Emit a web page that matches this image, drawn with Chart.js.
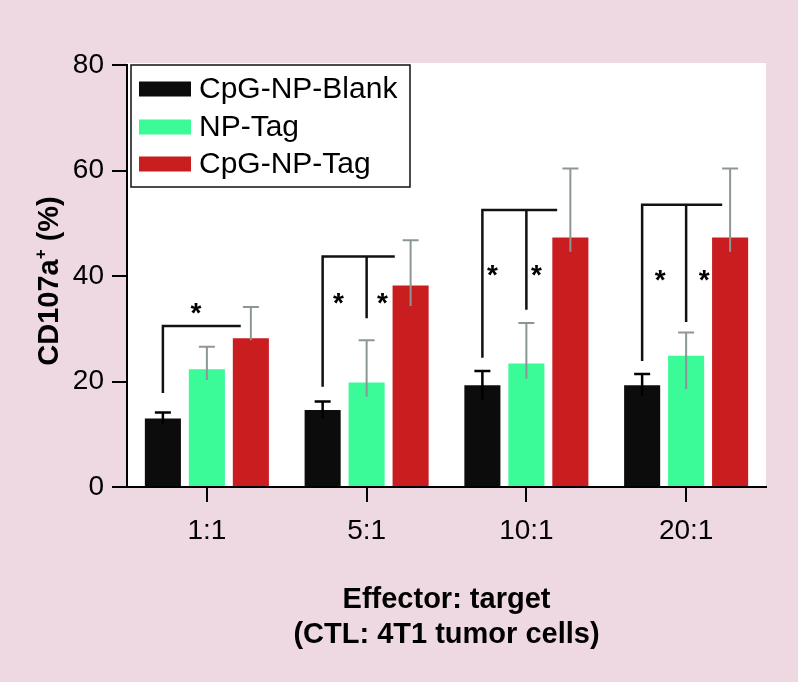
<!DOCTYPE html>
<html lang="en">
<head>
<meta charset="UTF-8">
<title>CD107a+ CTL at different effector:target ratios</title>
<script src="https://cdn.jsdelivr.net/npm/chart.js"></script>
<style>
  html, body { margin: 0; padding: 0; background: #EED8E2; }
  canvas { display: block; }
</style>
</head>
<body>
<canvas id="plot" width="798" height="682"></canvas>
<script>
// effector:target ratios
const categories = ['1:1', '5:1', '10:1', '20:1'];
const seriesNames = ['CpG-NP-Blank', 'NP-Tag', 'CpG-NP-Tag'];

// mean CD107a+ (%)
const blankValues = [13.0, 14.6, 19.3, 19.3];
const npTagValues = [22.3, 19.8, 23.4, 24.9];
const cpgTagValues = [28.2, 38.2, 47.3, 47.3];

// error bars: upper arm, and lower arm as far as it shows in the bar
const blankErr = [1.1, 1.6, 2.7, 2.1];
const npTagErr = [4.3, 8.0, 7.7, 4.4];
const cpgTagErr = [5.9, 8.6, 13.1, 13.1];
const blankErrLow = [1.1, 1.6, 2.7, 2.1];
const npTagErrLow = [2.0, 2.7, 2.9, 6.3];
const cpgTagErrLow = [0.4, 3.9, 2.7, 2.7];

const yTicks = [0, 20, 40, 60, 80];

// significance brackets, one per group (values in %, ends in bar slots 0..2)
const bracketLevel = [30.5, 43.7, 52.5, 53.5];
const bracketFootBlank = [17.8, 19.0, 24.5, 23.9];
const bracketFootNpTag = [null, 32.0, 33.6, 31.3];
const bracketEnd = [1.77, 1.64, 1.70, 1.82];
const starSlots = [[0.75], [0.36, 1.36], [0.23, 1.23], [0.41, 1.41]];
const starLevel = [34.3, 36.2, 41.5, 40.6];

const xTitle = ['Effector: target', '(CTL: 4T1 tumor cells)'];
const yTitle = ['CD107a', '+', ' (%)'];

const FONT = "'Liberation Sans', Arial, Helvetica, sans-serif";
const PINK = '#EED8E2';
const GREY = '#8D9696';

const errUp = [blankErr, npTagErr, cpgTagErr];
const errLow = [blankErrLow, npTagErrLow, cpgTagErrLow];

// pink page, white plot area
const backdrop = {
    id: 'backdrop',
    beforeDraw(chart) {
        const { ctx, chartArea: a } = chart;
        ctx.save();
        ctx.fillStyle = PINK;
        ctx.fillRect(0, 0, chart.width, chart.height);
        ctx.fillStyle = '#fff';
        ctx.fillRect(a.left, a.top - 2, a.right - a.left, a.bottom - a.top + 2);
        ctx.restore();
    }
};

const errorBars = {
    id: 'errorBars',
    afterDatasetsDraw(chart) {
        const { ctx } = chart;
        const y = chart.scales.y;
        ctx.save();
        chart.data.datasets.forEach((ds, i) => {
            const meta = chart.getDatasetMeta(i);
            ctx.strokeStyle = i === 0 ? '#000' : GREY;
            ctx.lineWidth = i === 0 ? 2.5 : 2;
            meta.data.forEach((bar, j) => {
                const v = ds.data[j];
                const top = y.getPixelForValue(v + errUp[i][j]);
                const low = y.getPixelForValue(v - errLow[i][j]);
                ctx.beginPath();
                ctx.moveTo(bar.x, low);
                ctx.lineTo(bar.x, top);
                ctx.moveTo(bar.x - 8, top);
                ctx.lineTo(bar.x + 8, top);
                ctx.stroke();
            });
        });
        ctx.restore();
    }
};

const brackets = {
    id: 'brackets',
    afterDatasetsDraw(chart) {
        const { ctx } = chart;
        const y = chart.scales.y;
        const m0 = chart.getDatasetMeta(0).data;
        const m1 = chart.getDatasetMeta(1).data;
        ctx.save();
        ctx.strokeStyle = '#111';
        ctx.lineWidth = 2.5;
        ctx.fillStyle = '#000';
        ctx.font = 'bold 28px ' + FONT;
        ctx.textAlign = 'center';
        ctx.textBaseline = 'alphabetic';
        categories.forEach((c, j) => {
            const x0 = m0[j].x;
            const pitch = m1[j].x - m0[j].x;
            const level = y.getPixelForValue(bracketLevel[j]);
            ctx.beginPath();
            ctx.moveTo(x0, y.getPixelForValue(bracketFootBlank[j]));
            ctx.lineTo(x0, level);
            ctx.lineTo(x0 + bracketEnd[j] * pitch, level);
            if (bracketFootNpTag[j] !== null) {
                ctx.moveTo(x0 + pitch, level);
                ctx.lineTo(x0 + pitch, y.getPixelForValue(bracketFootNpTag[j]));
            }
            ctx.stroke();
            starSlots[j].forEach(s => {
                ctx.fillText('*', x0 + s * pitch, y.getPixelForValue(starLevel[j]) + 28 * 0.58);
            });
        });
        ctx.restore();
    }
};

const decorations = {
    id: 'decorations',
    afterDraw(chart) {
        const { ctx, chartArea: a } = chart;
        ctx.save();

        // legend box inside the plot, top left
        const bx = a.left + 4, by = a.top, bw = 279, bh = 122;
        ctx.fillStyle = '#fff';
        ctx.fillRect(bx, by, bw, bh);
        ctx.strokeStyle = '#111';
        ctx.lineWidth = 1.5;
        ctx.strokeRect(bx, by, bw, bh);
        const rows = [24, 62, 99];
        ctx.font = '30px ' + FONT;
        ctx.textAlign = 'left';
        ctx.textBaseline = 'middle';
        chart.data.datasets.forEach((ds, i) => {
            ctx.fillStyle = ds.backgroundColor;
            ctx.fillRect(bx + 8, by + rows[i] - 7.5, 52, 15);
            ctx.fillStyle = '#000';
            ctx.fillText(ds.label, bx + 68, by + rows[i] + 1);
        });

        // x axis title, two lines
        ctx.font = 'bold 29px ' + FONT;
        ctx.textAlign = 'center';
        ctx.textBaseline = 'alphabetic';
        const cx = (a.left + a.right) / 2;
        ctx.fillText(xTitle[0], cx, 608);
        ctx.fillText(xTitle[1], cx, 643);

        // y axis title with superscript +
        ctx.save();
        ctx.translate(58, 281);
        ctx.rotate(-Math.PI / 2);
        ctx.textAlign = 'left';
        ctx.font = 'bold 29px ' + FONT;
        const w1 = ctx.measureText(yTitle[0]).width;
        const w3 = ctx.measureText(yTitle[2]).width;
        ctx.font = 'bold 17px ' + FONT;
        const w2 = ctx.measureText(yTitle[1]).width;
        let x = -(w1 + w2 + w3) / 2;
        ctx.font = 'bold 29px ' + FONT;
        ctx.fillText(yTitle[0], x, 0);
        x += w1;
        ctx.font = 'bold 17px ' + FONT;
        ctx.fillText(yTitle[1], x, -12);
        x += w2;
        ctx.font = 'bold 29px ' + FONT;
        ctx.fillText(yTitle[2], x, 0);
        ctx.restore();

        ctx.restore();
    }
};

const ctx = document.getElementById('plot').getContext('2d');
new Chart(ctx, {
    type: 'bar',
    data: {
        labels: categories,
        datasets: [
            { label: seriesNames[0], data: blankValues, backgroundColor: '#0B0C0B' },
            { label: seriesNames[1], data: npTagValues, backgroundColor: '#3BFA98' },
            { label: seriesNames[2], data: cpgTagValues, backgroundColor: '#CA1D1F' }
        ]
    },
    options: {
        responsive: false,
        animation: false,
        devicePixelRatio: 1,
        categoryPercentage: 0.826,
        barPercentage: 0.82,
        layout: { padding: { top: 65, right: 32, bottom: 0, left: 0 } },
        plugins: {
            legend: { display: false },
            tooltip: { enabled: false }
        },
        scales: {
            x: {
                afterFit: s => { s.height = 195; },
                grid: { offset: false, drawOnChartArea: false, tickLength: 15, color: '#000', lineWidth: 2 },
                border: { display: true, color: '#000', width: 2 },
                ticks: { color: '#000', font: { family: FONT, size: 28 }, padding: 12 }
            },
            y: {
                min: yTicks[0],
                max: yTicks[yTicks.length - 1],
                afterFit: s => { s.width = 127; },
                grid: { drawOnChartArea: false, tickLength: 15, color: '#000', lineWidth: 2 },
                border: { display: true, color: '#000', width: 2 },
                ticks: { stepSize: yTicks[1] - yTicks[0], color: '#000', font: { family: FONT, size: 28 }, padding: 8 }
            }
        }
    },
    plugins: [backdrop, errorBars, brackets, decorations]
});
</script>
</body>
</html>
